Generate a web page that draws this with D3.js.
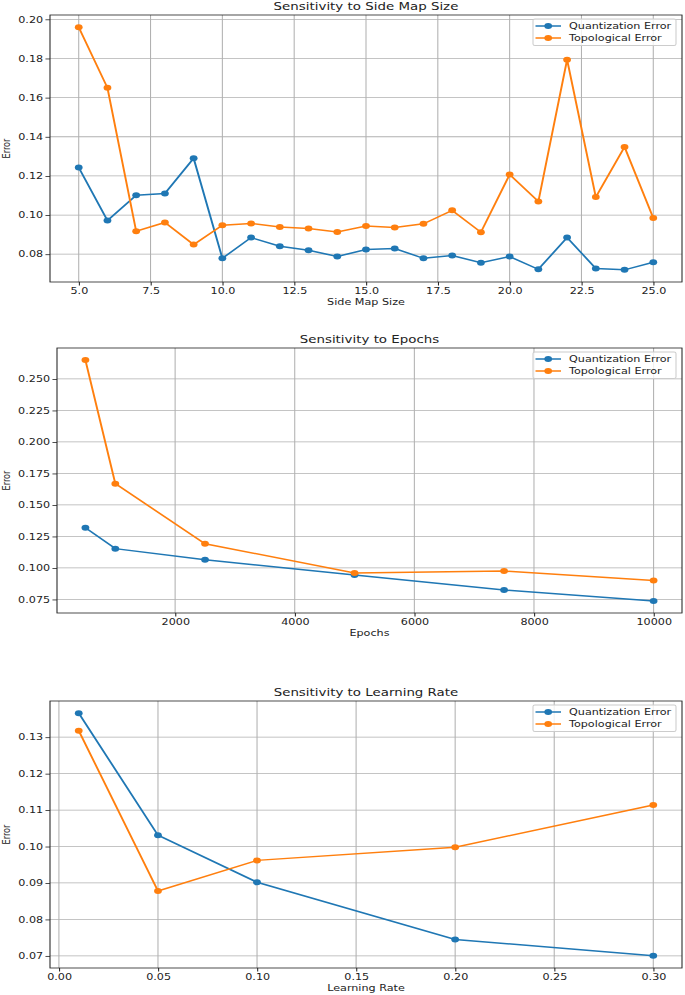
<!DOCTYPE html>
<meta charset="utf-8">
<html>
  <head>
    <script src="https://d3js.org/d3.v7.min.js"></script>
    <style>
      body { margin: 0; background: #fff; }
      text { font-family: "DejaVu Sans", sans-serif; }
    </style>
  </head>
  <body>
    <svg id="viz"></svg>
    <script>
    // values
    const mapSizes = [5, 6, 7, 8, 9, 10, 11, 12, 13, 14, 15, 16, 17, 18, 19, 20, 21, 22, 23, 24, 25];
    const mapQuantError = [0.1243, 0.0972, 0.1101, 0.1110, 0.1290, 0.0779, 0.0885, 0.0841, 0.0820, 0.0788, 0.0824,
                           0.0829, 0.0779, 0.0793, 0.0756, 0.0788, 0.0723, 0.0885, 0.0727, 0.0720, 0.0759];
    const mapTopoError = [0.1960, 0.1650, 0.0917, 0.0962, 0.0849, 0.0948, 0.0957, 0.0939, 0.0931, 0.0914, 0.0944,
                          0.0936, 0.0955, 0.1024, 0.0912, 0.1207, 0.1069, 0.1794, 0.1092, 0.1348, 0.0985];

    const epochs = [500, 1000, 2500, 5000, 7500, 10000];
    const epochQuantError = [0.1319, 0.1153, 0.1065, 0.0944, 0.0825, 0.0738];
    const epochTopoError = [0.2650, 0.1669, 0.1192, 0.0960, 0.0975, 0.0901];

    const learningRates = [0.01, 0.05, 0.10, 0.20, 0.30];
    const lrQuantError = [0.1366, 0.1031, 0.0902, 0.0745, 0.0700];
    const lrTopoError = [0.1318, 0.0878, 0.0962, 0.0998, 0.1114];

    // tick labels
    const mapXTicks = [5, 7.5, 10, 12.5, 15, 17.5, 20, 22.5, 25];
    const mapYTicks = [0.08, 0.10, 0.12, 0.14, 0.16, 0.18, 0.20];
    const epochXTicks = [2000, 4000, 6000, 8000, 10000];
    const epochYTicks = [0.075, 0.100, 0.125, 0.150, 0.175, 0.200, 0.225, 0.250];
    const lrXTicks = [0.00, 0.05, 0.10, 0.15, 0.20, 0.25, 0.30];
    const lrYTicks = [0.07, 0.08, 0.09, 0.10, 0.11, 0.12, 0.13];

    const seriesNames = ["Quantization Error", "Topological Error"];
    const colors = ["#1f77b4", "#ff7f0e"];

    // the picture is stretched sideways, so draw in a narrower box and stretch it
    const S = 1.3;
    const W = 685, H = 995;
    const VW = W / S;

    const svg = d3.select("#viz")
        .attr("width", W)
        .attr("height", H)
        .attr("viewBox", "0 0 " + VW + " " + H)
        .attr("preserveAspectRatio", "none");

    const panels = [
        {title: "Sensitivity to Side Map Size", xlabel: "Side Map Size", xs: mapSizes,
         q: mapQuantError, t: mapTopoError, xTicks: mapXTicks, yTicks: mapYTicks,
         xFmt: d3.format(".1f"), yFmt: d3.format(".2f"),
         left: 50, right: 682, top: 15, bottom: 282},
        {title: "Sensitivity to Epochs", xlabel: "Epochs", xs: epochs,
         q: epochQuantError, t: epochTopoError, xTicks: epochXTicks, yTicks: epochYTicks,
         xFmt: d3.format("d"), yFmt: d3.format(".3f"),
         left: 57, right: 682, top: 348, bottom: 613},
        {title: "Sensitivity to Learning Rate", xlabel: "Learning Rate", xs: learningRates,
         q: lrQuantError, t: lrTopoError, xTicks: lrXTicks, yTicks: lrYTicks,
         xFmt: d3.format(".2f"), yFmt: d3.format(".2f"),
         left: 50, right: 682, top: 701, bottom: 968}
    ];

    // matplotlib style 5% margins
    function pad(ext) {
        var m = (ext[1] - ext[0]) * 0.05;
        return [ext[0] - m, ext[1] + m];
    }

    function drawPanel(p) {
        var g = svg.append("g");
        var l = p.left / S, r = p.right / S;

        var x = d3.scaleLinear().domain(pad(d3.extent(p.xs))).range([l, r]);
        var y = d3.scaleLinear().domain(pad(d3.extent(p.q.concat(p.t)))).range([p.bottom, p.top]);

        // grid
        g.selectAll(".vgrid").data(p.xTicks).join("line")
            .attr("x1", d => x(d)).attr("x2", d => x(d))
            .attr("y1", p.top).attr("y2", p.bottom)
            .attr("stroke", "#b0b0b0").attr("stroke-width", 0.8);
        g.selectAll(".hgrid").data(p.yTicks).join("line")
            .attr("x1", l).attr("x2", r)
            .attr("y1", d => y(d)).attr("y2", d => y(d))
            .attr("stroke", "#b0b0b0").attr("stroke-width", 0.8);

        // axes
        var xAxis = g.append("g")
            .attr("transform", "translate(0," + p.bottom + ")")
            .call(d3.axisBottom(x).tickValues(p.xTicks).tickFormat(p.xFmt).tickSize(3.5).tickPadding(2.5));
        var yAxis = g.append("g")
            .attr("transform", "translate(" + l + ",0)")
            .call(d3.axisLeft(y).tickValues(p.yTicks).tickFormat(p.yFmt).tickSize(3.5).tickPadding(1.8));
        [xAxis, yAxis].forEach(a => {
            a.select(".domain").remove();
            a.selectAll("line").attr("stroke", "#222").attr("stroke-width", 0.8);
            a.selectAll("text").attr("fill", "#222").style("font-size", "8.6px")
                .style("font-family", "DejaVu Sans");
        });

        // frame
        g.append("rect")
            .attr("x", l).attr("y", p.top)
            .attr("width", r - l).attr("height", p.bottom - p.top)
            .attr("fill", "none").attr("stroke", "#222").attr("stroke-width", 0.8);

        // lines and markers
        [p.q, p.t].forEach((vals, i) => {
            var pts = p.xs.map((d, j) => [d, vals[j]]);
            g.append("path")
                .datum(pts)
                .attr("fill", "none")
                .attr("stroke", colors[i])
                .attr("stroke-width", 1.5)
                .attr("d", d3.line().x(d => x(d[0])).y(d => y(d[1])));
            g.selectAll(".dot" + i).data(pts).join("circle")
                .attr("cx", d => x(d[0])).attr("cy", d => y(d[1]))
                .attr("r", 3).attr("fill", colors[i]);
        });

        // title and labels
        g.append("text")
            .attr("x", (l + r) / 2).attr("y", p.top - 5)
            .attr("text-anchor", "middle")
            .style("font-size", "10.3px").attr("fill", "#222")
            .text(p.title);
        g.append("text")
            .attr("x", (l + r) / 2).attr("y", p.bottom + 23.5)
            .attr("text-anchor", "middle")
            .style("font-size", "8.6px").attr("fill", "#222")
            .text(p.xlabel);
        g.append("text")
            .attr("transform", "translate(" + (9.5 / S) + "," + ((p.top + p.bottom) / 2) + ") rotate(-90)")
            .attr("text-anchor", "middle")
            .style("font-size", "8.2px").attr("fill", "#222")
            .text("Error");

        // legend
        var lw = 143 / S, lh = 26.5;
        var lx = r - 6 / S - lw, ly = p.top + 4;
        var leg = g.append("g");
        leg.append("rect")
            .attr("x", lx).attr("y", ly).attr("width", lw).attr("height", lh)
            .attr("rx", 1.5).attr("fill", "#fff").attr("fill-opacity", 0.8)
            .attr("stroke", "#ccc").attr("stroke-width", 0.8);
        seriesNames.forEach((name, i) => {
            var yy = ly + 7 + i * 12;
            leg.append("line")
                .attr("x1", lx + 2.5 / S).attr("x2", lx + 28 / S)
                .attr("y1", yy).attr("y2", yy)
                .attr("stroke", colors[i]).attr("stroke-width", 1.5);
            leg.append("circle")
                .attr("cx", lx + 15.2 / S).attr("cy", yy).attr("r", 3)
                .attr("fill", colors[i]);
            leg.append("text")
                .attr("x", lx + 36 / S).attr("y", yy).attr("dy", "0.35em")
                .style("font-size", "8.6px").attr("fill", "#222")
                .text(name);
        });
    }

    panels.forEach(drawPanel);
    </script>
  </body>
</html>
